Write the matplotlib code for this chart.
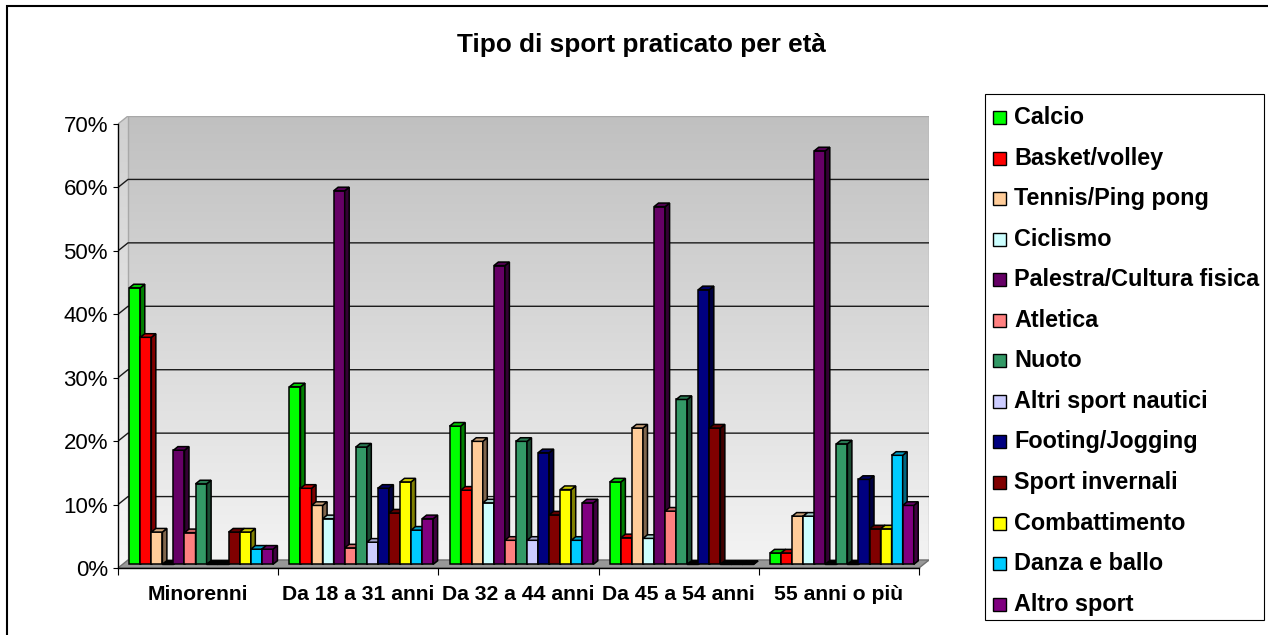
import numpy as np
import matplotlib
matplotlib.use("Agg")
import matplotlib.pyplot as plt
import matplotlib.ticker as mticker
from matplotlib.patches import Polygon, Rectangle
from matplotlib.colors import to_rgb, LinearSegmentedColormap

# Dati (percentuali)
categories = ["Minorenni", "Da 18 a 31 anni", "Da 32 a 44 anni", "Da 45 a 54 anni", "55 anni o più"]
series = ["Calcio", "Basket/volley", "Tennis/Ping pong", "Ciclismo", "Palestra/Cultura fisica",
          "Atletica", "Nuoto", "Altri sport nautici", "Footing/Jogging", "Sport invernali",
          "Combattimento", "Danza e ballo", "Altro sport"]
calcio = [43.6, 28.0, 21.8, 13.0, 1.8]
basket = [35.8, 12.0, 11.7, 4.2, 1.8]
tennis = [5.1, 9.3, 19.4, 21.5, 7.6]
ciclismo = [0.0, 7.2, 9.7, 4.1, 7.6]
palestra = [18.0, 58.9, 47.1, 56.4, 65.2]
atletica = [5.0, 2.6, 3.8, 8.4, 0.0]
nuoto = [12.7, 18.5, 19.4, 26.0, 19.0]
nautici = [0.0, 3.5, 3.8, 0.0, 0.0]
footing = [0.0, 12.0, 17.6, 43.3, 13.4]
invernali = [5.1, 8.1, 7.8, 21.5, 5.6]
combattimento = [5.1, 13.0, 11.8, 0.0, 5.6]
danza = [2.4, 5.4, 3.8, 0.0, 17.2]
altro = [2.4, 7.2, 9.7, 0.0, 9.3]
values = [calcio, basket, tennis, ciclismo, palestra, atletica, nuoto, nautici,
          footing, invernali, combattimento, danza, altro]
colors = ["#00FF00", "#FF0000", "#FFCC99", "#CCFFFF", "#660066", "#FF8080", "#339966",
          "#CCCCFF", "#000080", "#800000", "#FFFF00", "#00CCFF", "#800080"]
yticks = [0, 10, 20, 30, 40, 50, 60, 70]

W, H = 1268, 635
plt.rcParams["font.family"] = ["Liberation Sans", "DejaVu Sans"]
fig = plt.figure(figsize=(W / 100, H / 100), dpi=100)
ax = fig.add_axes([118 / W, 1 - 568 / H, 811 / W, 452 / H])
ax.set_facecolor("none")

n = len(categories)
ymax = yticks[-1]
WX, WY = 10 / 160.2, 8 / (444 / 70)  # profondità delle pareti (finto 3D)


def proj(x, y, z):
    return (x + z * WX, y + z * WY)


# pareti con sfumatura
grad = np.linspace(0, 1, 256).reshape(-1, 1)
back = Polygon([proj(0, 0, 1), proj(n, 0, 1), proj(n, ymax, 1), proj(0, ymax, 1)],
               closed=True, facecolor="none", edgecolor="#a8a8a8", lw=1, zorder=0.6)
ax.add_patch(back)
im = ax.imshow(grad, cmap=LinearSegmentedColormap.from_list("w", ["#f4f4f4", "#c0c0c0"]),
               origin="lower", extent=(0, n + WX, 0, ymax + WY), aspect="auto", zorder=0)
im.set_clip_path(back)

side_wall = Polygon([proj(0, 0, 0), proj(0, 0, 1), proj(0, ymax, 1), proj(0, ymax, 0)],
                    closed=True, facecolor="none", edgecolor="none", zorder=0.6)
ax.add_patch(side_wall)
im2 = ax.imshow(grad, cmap=LinearSegmentedColormap.from_list("s", ["#f8f8f8", "#d0d0d0"]),
                origin="lower", extent=(0, n + WX, 0, ymax + WY), aspect="auto", zorder=0)
im2.set_clip_path(side_wall)

# pavimento
floor = Polygon([proj(0, 0, 0), proj(n, 0, 0), proj(n, 0, 1), proj(0, 0, 1)], closed=True,
                facecolor="#989898", edgecolor="#707070", lw=1, zorder=1)
ax.add_patch(floor)

# griglia
for t in yticks[1:]:
    c = "#1a1a1a" if t < ymax else "#a8a8a8"
    p0, p1, p2 = proj(0, t, 0), proj(0, t, 1), proj(n, t, 1)
    ax.plot([p0[0], p1[0], p2[0]], [p0[1], p1[1], p2[1]], color=c, lw=1, zorder=0.8)

# barre 3D
w, off = 0.069, 0.042
z0, z1 = 0.45, 0.9
dx, dy = (z1 - z0) * WX, (z1 - z0) * WY
b = z0 * WY
for j in range(n):
    for i, (vals, col) in enumerate(zip(values, colors)):
        v = vals[j]
        x0 = j + off + i * w + z0 * WX
        zo = 3 + (j * len(series) + i) * 0.01
        rgb = np.array(to_rgb(col))
        top_col = rgb * 0.8 if v > 0 else "black"
        ax.bar(x0, v, width=w, bottom=b, align="edge", color=col, edgecolor="black",
               lw=1.1, zorder=zo)
        ax.add_patch(Polygon([(x0 + w, b), (x0 + w + dx, b + dy), (x0 + w + dx, b + v + dy),
                              (x0 + w, b + v)], closed=True, facecolor=rgb * 0.5,
                             edgecolor="black", lw=1.1, zorder=zo))
        ax.add_patch(Polygon([(x0, b + v), (x0 + w, b + v), (x0 + w + dx, b + v + dy),
                              (x0 + dx, b + v + dy)], closed=True, facecolor=top_col,
                             edgecolor="black", lw=1.1, zorder=zo))

ax.set_xlim(0, n + WX)
ax.set_ylim(0, ymax + WY)
for s in ["top", "right"]:
    ax.spines[s].set_visible(False)
ax.spines["left"].set_bounds(0, ymax)
ax.spines["bottom"].set_bounds(0, n)
ax.spines["left"].set_linewidth(1)
ax.spines["bottom"].set_linewidth(1)

ax.set_yticks(yticks)
ax.yaxis.set_major_formatter(mticker.PercentFormatter(decimals=0))
ax.tick_params(axis="y", length=3.6, width=0.8, pad=3.6, labelsize=16)

ax.set_xticks(range(n + 1))
ax.set_xticklabels([])
ax.set_xticks([j + 0.5 for j in range(n)], minor=True)
ax.set_xticklabels(categories, minor=True, fontweight="bold", fontsize=15.2)
ax.tick_params(axis="x", which="major", length=5, width=0.8)
ax.tick_params(axis="x", which="minor", length=0, pad=12)

fig.text(641 / W, 1 - 51.7 / H, "Tipo di sport praticato per età", ha="center",
         va="baseline", fontsize=18.8, fontweight="bold")

# legenda disegnata a mano
fig.add_artist(Rectangle((985 / W, 1 - 620 / H), 279 / W, 526 / H, transform=fig.transFigure,
                         facecolor="white", edgecolor="black", lw=0.8))
for i, (name, col) in enumerate(zip(series, colors)):
    yb = 124 + 40.55 * i
    fig.add_artist(Rectangle((993 / W, 1 - yb / H), 13 / W, 13 / H, transform=fig.transFigure,
                             facecolor=col, edgecolor="black", lw=1))
    fig.text(1014 / W, 1 - yb / H, name, ha="left", va="baseline", fontsize=16.8,
             fontweight="bold")

# bordo esterno
fig.add_artist(Rectangle((7 / W, -0.05), 1.1, 1.05 - 6 / H, transform=fig.transFigure,
                         fill=False, edgecolor="black", lw=1.5))

fig.savefig("out.png", dpi=100)
